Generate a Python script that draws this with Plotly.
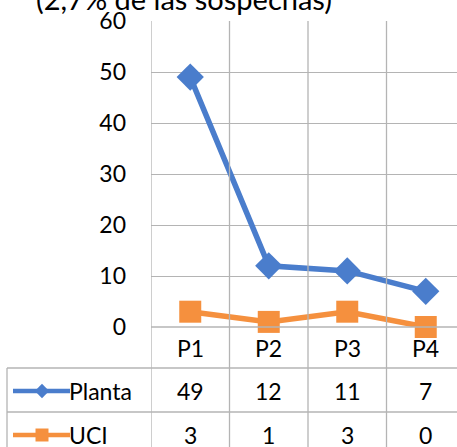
import plotly.graph_objects as go

categories = ["P1", "P2", "P3", "P4"]
planta = [49, 12, 11, 7]
uci = [3, 1, 3, 0]
series_names = ["Planta", "UCI"]
title_text = "(2,7% de las sospechas)"
y_ticks = [0, 10, 20, 30, 40, 50, 60]

W, H = 457, 447
BLUE = "#4a7dcc"
ORANGE = "#f5903e"
GRID = "#b4b4b4"
FONT = "Lato, 'Open Sans', sans-serif"
FS = 23

# layout geometry (pixels)
plot_left, plot_top, plot_bottom = 151, 21, 327
cat_w = 78.5
row_header_bot, row1_bot = 368, 412
table_left = 7

x_max = (W - plot_left) / cat_w - 0.5

fig = go.Figure()

fig.add_trace(go.Scatter(
    x=categories, y=planta, mode="lines+markers", name=series_names[0],
    line=dict(color=BLUE, width=5.5),
    marker=dict(symbol="diamond", size=21, color=BLUE),
    xaxis="x", yaxis="y", showlegend=False, cliponaxis=False))
fig.add_trace(go.Scatter(
    x=categories, y=uci, mode="lines+markers", name=series_names[1],
    line=dict(color=ORANGE, width=5.5),
    marker=dict(symbol="square", size=22, color=ORANGE),
    xaxis="x", yaxis="y", showlegend=False, cliponaxis=False))

# legend swatches in table (pixel axis)
for name, color, sym, yc in [(series_names[0], BLUE, "diamond", 391),
                             (series_names[1], ORANGE, "square", 435)]:
    fig.add_trace(go.Scatter(
        x=[13, 42, 70], y=[yc, yc, yc], mode="lines",
        line=dict(color=color, width=4.5), xaxis="x2", yaxis="y2",
        showlegend=False, hoverinfo="skip"))
    fig.add_trace(go.Scatter(
        x=[42], y=[yc], mode="markers",
        marker=dict(symbol=sym, size=11 if sym == "diamond" else 13, color=color),
        xaxis="x2", yaxis="y2", showlegend=False, hoverinfo="skip"))

shapes = []
# vertical category separators
for i in range(len(categories) + 1):
    shapes.append(dict(type="line", xref="x", yref="y2", x0=i - 0.5, x1=i - 0.5,
                       y0=plot_top, y1=H, line=dict(color=GRID, width=1.3)))
# horizontal table lines
shapes.append(dict(type="line", xref="x2", yref="y2", x0=plot_left, x1=W,
                   y0=plot_bottom, y1=plot_bottom, line=dict(color=GRID, width=1.3)))
for yy in [row_header_bot, row1_bot]:
    shapes.append(dict(type="line", xref="x2", yref="y2", x0=table_left, x1=W,
                       y0=yy, y1=yy, line=dict(color=GRID, width=1.3)))
shapes.append(dict(type="line", xref="x2", yref="y2", x0=table_left, x1=table_left,
                   y0=row_header_bot, y1=H, line=dict(color=GRID, width=1.3)))

tf = dict(size=FS, color="#000")
annotations = []
for i, c in enumerate(categories):
    annotations.append(dict(xref="x", yref="y2", x=i, y=348, text=c,
                            showarrow=False, font=tf))
    annotations.append(dict(xref="x", yref="y2", x=i, y=391, text=str(planta[i]),
                            showarrow=False, font=tf))
    annotations.append(dict(xref="x", yref="y2", x=i, y=435, text=str(uci[i]),
                            showarrow=False, font=tf))
annotations.append(dict(xref="x2", yref="y2", x=67, y=391, text=series_names[0],
                        xanchor="left", showarrow=False, font=tf))
annotations.append(dict(xref="x2", yref="y2", x=67, y=435, text=series_names[1],
                        xanchor="left", showarrow=False, font=tf))

fig.update_layout(
    width=W, height=H,
    margin=dict(l=0, r=0, t=0, b=0),
    paper_bgcolor="white", plot_bgcolor="rgba(0,0,0,0)",
    font=dict(family=FONT, color="#000"),
    title=dict(text=title_text, xref="container", yref="container",
               x=184 / W, xanchor="center", y=1.0, yanchor="middle",
               pad=dict(t=0, b=0), font=dict(size=29, color="#000")),
    xaxis=dict(domain=[plot_left / W, 1], range=[-0.5, x_max], showticklabels=False,
               showgrid=False, zeroline=False, showline=False, fixedrange=True,
               automargin=False),
    yaxis=dict(domain=[1 - plot_bottom / H, 1 - plot_top / H], range=[0, 60],
               tickvals=y_ticks, showgrid=True, gridcolor=GRID, gridwidth=1.3,
               zeroline=False, showline=False, ticks="", ticklabelstandoff=24,
               tickfont=tf, fixedrange=True, automargin=False),
    xaxis2=dict(domain=[0, 1], range=[0, W], visible=False, fixedrange=True,
                automargin=False),
    yaxis2=dict(domain=[0, 1], range=[H, 0], visible=False, fixedrange=True,
                automargin=False),
    shapes=shapes, annotations=annotations,
)

fig.write_html("out.html", config={"displayModeBar": False},
               post_script="document.body.style.margin='0';"
                           "document.body.style.overflow='hidden';")
